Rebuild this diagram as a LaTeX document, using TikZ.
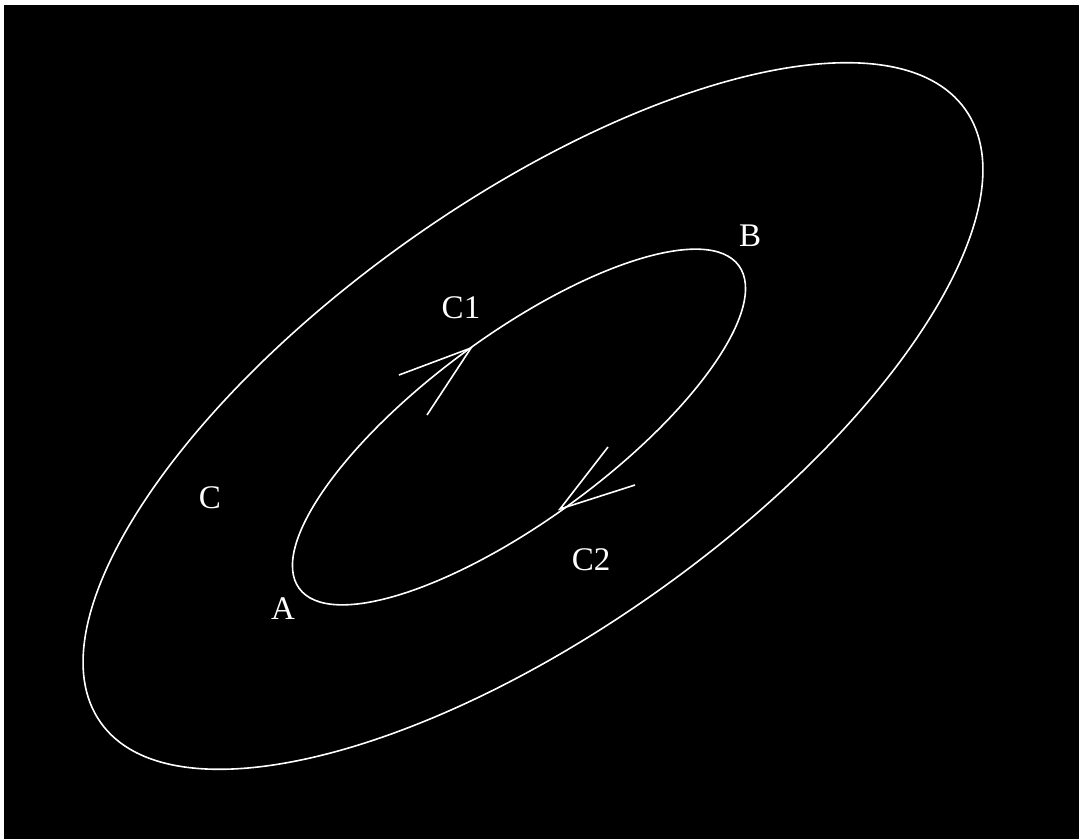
\documentclass[tikz,border=0pt]{standalone}
\usepackage{fontspec}
\setmainfont{Liberation Serif}
\begin{document}
\begin{tikzpicture}[x=1pt,y=-1pt,
  curve/.style={draw=white, line width=1.6pt},
  barb/.style={draw=white, line width=1.6pt},
  lbl/.style={text=white, font=\fontsize{33}{33}\selectfont, inner sep=0pt}]
\fill[white] (0,0) rectangle (1079,839);
\fill[black] (4,5) rectangle (1079,839);
\useasboundingbox (0,0) rectangle (1079,839);
% outer closed curve C
\coordinate (oc) at (533,416);
\path[curve, rotate around={35.35:(oc)}] (oc) ellipse [x radius=530, y radius=215];
% inner closed curve
\coordinate (ic) at (519,427);
\path[curve, rotate around={36.3:(ic)}] (ic) ellipse [x radius=272.7, y radius=92.5];
% arrow at C1
\coordinate (t1) at (471,348);
\coordinate (b1a) at (399,375);
\coordinate (b1b) at (427,415);
\draw[barb] (b1a) -- (t1) -- (b1b);
% arrow at C2
\coordinate (t2) at (560,509);
\coordinate (b2a) at (608,447);
\coordinate (b2b) at (635,485);
\draw[barb] (b2a) -- (t2) -- (b2b);
% labels
\node[lbl] (B) at (750,236) {B};
\node[lbl] (C1) at (461,308) {C1};
\node[lbl] (C2) at (591,560) {C2};
\node[lbl] (A) at (283,609) {A};
\node[lbl] (C) at (210,498) {C};
\end{tikzpicture}
\end{document}
